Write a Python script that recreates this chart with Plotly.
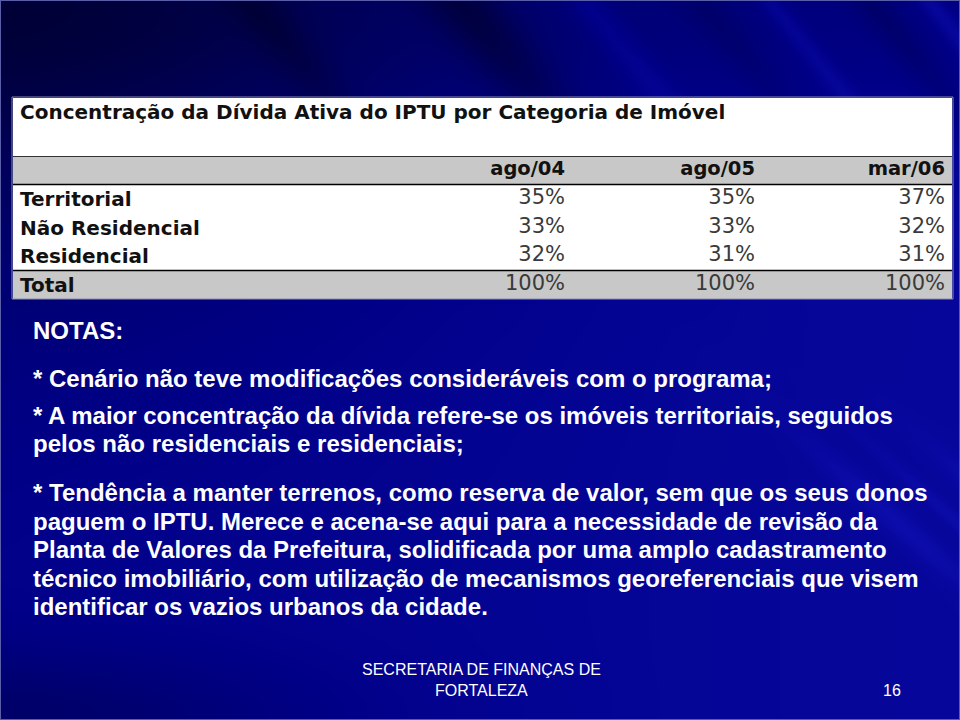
import base64
import struct
import zlib

import numpy as np
import plotly.graph_objects as go

# ---------------- data ----------------
title_text = "Concentração da Dívida Ativa do IPTU por Categoria de Imóvel"
categories = ["Territorial", "Não Residencial", "Residencial", "Total"]
periods = ["ago/04", "ago/05", "mar/06"]
ago04 = [35, 33, 32, 100]
ago05 = [35, 33, 31, 100]
mar06 = [37, 32, 31, 100]

notes_title = "NOTAS:"
notes_lines = [
    "* Cenário não teve modificações consideráveis com o programa;",
    "* A maior concentração da dívida refere-se os imóveis territoriais, seguidos",
    "pelos não residenciais e residenciais;",
    "* Tendência a manter terrenos, como reserva de valor, sem que os seus donos",
    "paguem o IPTU. Merece e acena-se aqui para a necessidade de revisão da",
    "Planta de Valores da Prefeitura, solidificada por uma amplo cadastramento",
    "técnico imobiliário, com utilização de mecanismos georeferenciais que visem",
    "identificar os vazios urbanos da cidade.",
]
footer_lines = ["SECRETARIA DE FINANÇAS DE", "FORTALEZA"]
page_number = "16"

# ---------------- background image (styling only) ----------------
W, H = 480, 360
px = np.linspace(0, 960, W)[None, :]
py = np.linspace(0, 720, H)[:, None]
b = 140 + 15 * (px / 960) + 0 * py
b = b - 60 * np.exp(-(px / 420) ** 2) * np.exp(-(py / 300) ** 2)
b = b - 25 * np.exp(-(py / 130) ** 2)
b = b - 35 * np.exp(-(px / 300) ** 2) * np.exp(-((720 - py) / 70) ** 2)
s = px - 0.8 * py
streak = np.zeros_like(s)
for c, a, w in [(250, -22, 30), (460, -40, 40), (585, 22, 22), (700, -15, 25),
                (770, 22, 14), (870, -20, 22), (930, 25, 14)]:
    streak = streak + a * np.exp(-((s - c) / w) ** 2)
b = b + streak * np.exp(-(py / 160) ** 2)
s2 = px - 1.1 * (py - 470)
streak2 = np.zeros_like(s2)
for c, a, w in [(840, 18, 20), (900, 14, 12), (960, 16, 20)]:
    streak2 = streak2 + a * np.exp(-((s2 - c) / w) ** 2)
b = b + streak2 * np.exp(-((py - 520) / 80) ** 2)
b = np.clip(b, 0, 255)
rg = np.clip((b - 135) * 0.35, 0, 255)
img = np.stack([rg, rg, b], axis=-1).astype(np.uint8)


def png_bytes(arr):
    h, w, _ = arr.shape
    raw = b"".join(b"\x00" + arr[i].tobytes() for i in range(h))

    def chunk(t, d):
        return struct.pack(">I", len(d)) + t + d + struct.pack(">I", zlib.crc32(t + d) & 0xFFFFFFFF)

    return (b"\x89PNG\r\n\x1a\n"
            + chunk(b"IHDR", struct.pack(">IIBBBBB", w, h, 8, 2, 0, 0, 0))
            + chunk(b"IDAT", zlib.compress(raw, 9))
            + chunk(b"IEND", b""))


bg_uri = "data:image/png;base64," + base64.b64encode(png_bytes(img)).decode()

# ---------------- figure ----------------
FW, FH = 960, 720


def xp(v):
    return v / FW


def yp(v):
    return 1 - v / FH


GRAY = "#C8C8C8"
HEADER = " "
rows = [HEADER] + categories

fig = go.Figure()
# header cells
fig.add_trace(go.Scatter(
    x=periods, y=[HEADER] * len(periods), mode="text",
    text=["<b>%s</b>" % p for p in periods], textposition="middle left",
    textfont=dict(family="DejaVu Sans", size=19.5, color="#111111"),
    cliponaxis=False, hoverinfo="skip",
))
# value cells
for p, col in zip(periods, (ago04, ago05, mar06)):
    fig.add_trace(go.Scatter(
        x=[p] * len(categories), y=categories, mode="text",
        text=["%d%%" % v for v in col], textposition="middle left",
        textfont=dict(family="DejaVu Sans", size=21, color="#3A3A3A"),
        cliponaxis=False, hoverinfo="skip",
    ))

shapes = [
    # white title strip above the table
    dict(type="rect", xref="paper", yref="paper", x0=xp(13), x1=xp(952), y0=yp(156), y1=yp(98),
         fillcolor="#FFFFFF", line=dict(width=0), layer="below"),
    # thin slide border
    dict(type="rect", xref="paper", yref="paper", x0=0, x1=1, y0=0, y1=1,
         fillcolor="rgba(0,0,0,0)", line=dict(color="#5A5EA8", width=2)),
]
# white table body
shapes.append(dict(type="rect", xref="x domain", yref="y", x0=0, x1=1,
                   y0=-0.5, y1=len(rows) - 0.5,
                   fillcolor="#FFFFFF", line=dict(width=0), layer="below"))
# gray bands for header and total rows
for r in (HEADER, categories[-1]):
    i = rows.index(r)
    shapes.append(dict(type="rect", xref="x domain", yref="y", x0=0, x1=1, y0=i - 0.5, y1=i + 0.5,
                       fillcolor=GRAY, line=dict(width=0), layer="below"))
# black rules: top of header, below header, above total
for i in (0, 1, len(rows) - 1):
    shapes.append(dict(type="line", xref="x domain", yref="y", x0=0, x1=1, y0=i - 0.5, y1=i - 0.5,
                       line=dict(color="#000000", width=1.5)))
# faint outline round the whole table picture
shapes.append(dict(type="rect", xref="paper", yref="paper", x0=xp(12), x1=xp(953), y0=yp(299), y1=yp(97),
                   fillcolor="rgba(0,0,0,0)", line=dict(color="#8A8FB0", width=1)))

annotations = [
    dict(text="<b>%s</b>" % title_text, x=xp(18), y=yp(112), xref="paper", yref="paper",
         xanchor="left", yanchor="middle", showarrow=False,
         font=dict(family="DejaVu Sans", size=20, color="#111111")),
    dict(text="<b>%s</b>" % notes_title, x=xp(31), y=yp(331), xref="paper", yref="paper",
         xanchor="left", yanchor="middle", showarrow=False,
         font=dict(family="Liberation Sans", size=24, color="white")),
]
note_y = [378, 416, 443, 492, 521, 549, 578, 606]
for line, yy in zip(notes_lines, note_y):
    annotations.append(dict(text="<b>%s</b>" % line, x=xp(31), y=yp(yy), xref="paper", yref="paper",
                            xanchor="left", yanchor="middle", showarrow=False,
                            font=dict(family="Liberation Sans", size=24, color="white")))

for line, yy in zip(footer_lines, [669, 690]):
    annotations.append(dict(text=line, x=xp(481), y=yp(yy), xref="paper", yref="paper",
                            xanchor="center", yanchor="middle", showarrow=False,
                            font=dict(family="Liberation Sans", size=16, color="white")))
annotations.append(dict(text=page_number, x=xp(903), y=yp(690), xref="paper", yref="paper",
                        xanchor="right", yanchor="middle", showarrow=False,
                        font=dict(family="Liberation Sans", size=16, color="white")))

# columns: right edges of the three value columns sit 190 px apart, table spans 13..952 px
col_step = 190.0
first_right = 565.0
x_lo = (13 - first_right) / col_step
x_hi = (952 - first_right) / col_step

fig.update_layout(
    width=FW, height=FH,
    margin=dict(l=0, r=0, t=0, b=0),
    paper_bgcolor="#00008A",
    plot_bgcolor="#FFFFFF",
    images=[dict(source=bg_uri, xref="paper", yref="paper", x=0, y=1, sizex=1, sizey=1,
                 sizing="stretch", layer="below")],
    xaxis=dict(type="category", categoryarray=periods, range=[x_lo, x_hi],
               domain=[xp(13), xp(952)], showgrid=False, zeroline=False,
               showticklabels=False, ticks="", fixedrange=True),
    yaxis=dict(type="category", categoryarray=rows, range=[len(rows) - 0.5, -0.5],
               domain=[yp(299), yp(156)], showgrid=False, zeroline=False,
               tickvals=rows, ticktext=[""] + ["<b>%s</b>" % c for c in categories],
               ticklabelposition="inside", ticklabelstandoff=4, ticks="",
               tickfont=dict(family="DejaVu Sans", size=20, color="#111111"),
               fixedrange=True),
    shapes=shapes,
    annotations=annotations,
    showlegend=False,
)

fig.write_html("out.html", config={"displayModeBar": False},
               post_script="document.body.style.margin='0';")
